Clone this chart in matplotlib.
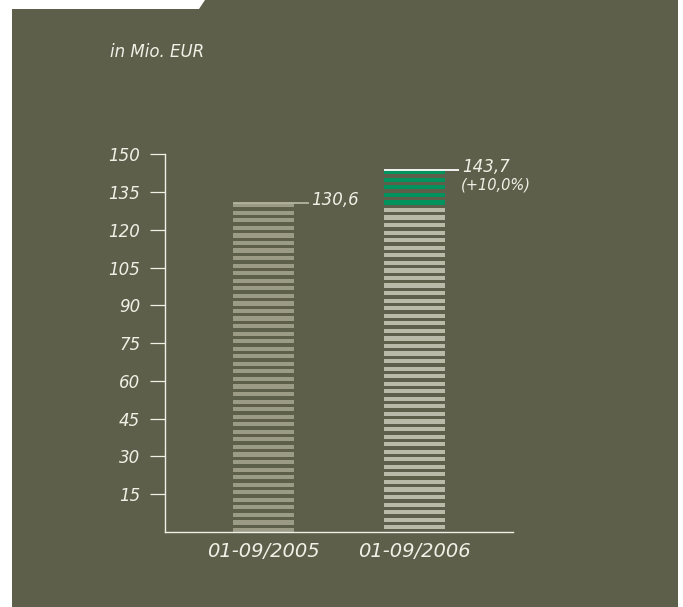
import matplotlib
matplotlib.use("Agg")
import matplotlib.pyplot as plt
from matplotlib.patches import Rectangle, Polygon

# Data
periods = ["01-09/2005", "01-09/2006"]
values = [130.6, 143.7]
value_labels = ["130,6", "143,7"]
change_label = "(+10,0%)"
yticks = [15, 30, 45, 60, 75, 90, 105, 120, 135, 150]

# Colours
bg = "#5e5f4a"
txt = "#f0f0e6"
grey_old = "#9c9c86"
grey_new = "#babaa8"
green = "#00935e"

W, H = 683, 607
fig = plt.figure(figsize=(W / 100, H / 100), dpi=100, facecolor="white")

# olive panel + white tab at the top-left
fig.patches.append(Rectangle((12 / W, 0), 666 / W, 1, transform=fig.transFigure,
                             facecolor=bg, edgecolor="none", zorder=0))
fig.patches.append(Polygon([(12 / W, 1), (205 / W, 1), (199 / W, 1 - 9 / H), (12 / W, 1 - 9 / H)],
                           closed=True, transform=fig.transFigure,
                           facecolor="white", edgecolor="none", zorder=1))

ax = fig.add_axes([165 / W, 75 / H, 347.7 / W, 377.7 / H])
ax.set_zorder(5)
ax.set_facecolor("none")
ax.set_ylim(0, 150)
ax.set_xlim(-0.656, 1.654)

# striped bars: stripes hang down from the value, one every 3 units
width = 0.405
step, thick = 3.0, 1.65
for i, v in enumerate(values):
    top = v
    while top > 0:
        bottom = max(top - thick, 0)
        if i == 0:
            col = grey_old
        elif top > values[0]:
            col = green
        else:
            col = grey_new
        ax.bar(i, top - bottom, bottom=bottom, width=width, color=col, linewidth=0, zorder=2)
        top -= step

# leader lines + value labels
line_cols = ["#b4b4a0", "white"]
for i, v in enumerate(values):
    x0 = i - width / 2
    x1 = i + width / 2 + 0.095
    ax.plot([x0, x1], [v, v], color=line_cols[i], lw=1.3, zorder=3, solid_capstyle="butt")
    ax.annotate(value_labels[i], (x1, v), xytext=(2, -1), textcoords="offset points",
                ha="left", va="baseline", fontsize=12, style="italic", color=txt)

ax.annotate(change_label, (1 + width / 2 + 0.095, values[1]), xytext=(1, -14),
            textcoords="offset points", ha="left", va="baseline",
            fontsize=10.5, style="italic", color=txt)

# axes styling
for s in ["top", "right"]:
    ax.spines[s].set_visible(False)
for s in ["left", "bottom"]:
    ax.spines[s].set_color(txt)
    ax.spines[s].set_linewidth(1.0)

ax.set_yticks(yticks)
ax.set_yticklabels([str(t) for t in yticks])
ax.tick_params(axis="y", length=10.8, width=0.9, color=txt, pad=7,
               labelsize=12, labelcolor=txt)
ax.set_xticks(range(len(periods)))
ax.set_xticklabels(periods)
ax.tick_params(axis="x", length=0, pad=7, labelsize=14, labelcolor=txt)
for lab in ax.get_xticklabels() + ax.get_yticklabels():
    lab.set_style("italic")

fig.text(110 / W, 1 - 52 / H, "in Mio. EUR", ha="left", va="center",
         fontsize=12, style="italic", color=txt)

fig.savefig("out.png", dpi=100, facecolor="white")
